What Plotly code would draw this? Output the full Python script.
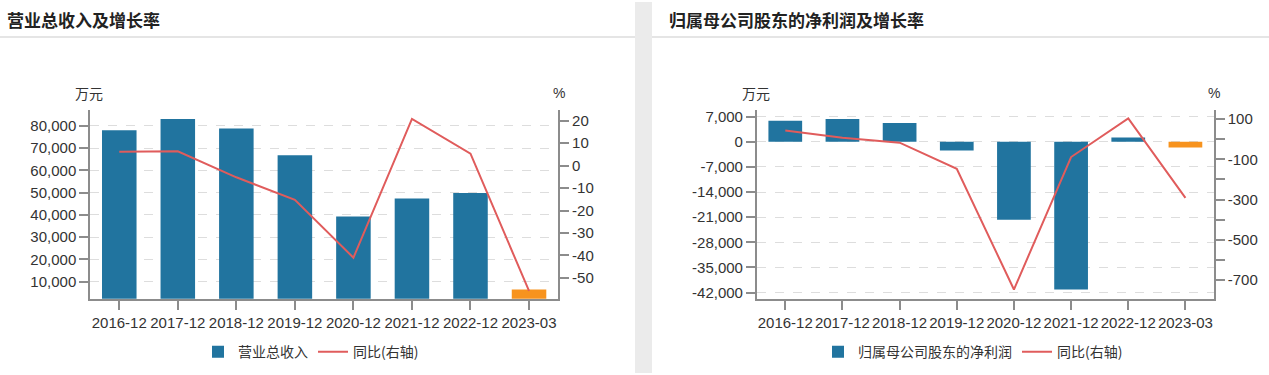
import plotly.graph_objects as go

W, H = 1269, 375

categories = ["2016-12", "2017-12", "2018-12", "2019-12", "2020-12", "2021-12", "2022-12", "2023-03"]

revenue = [78100, 83100, 78800, 66800, 39250, 47400, 49900, 6440]
revenue_yoy = [6.2, 6.4, -5.2, -15.2, -41.0, 20.8, 5.3, -55.8]

profit = [5870, 6330, 5230, -2400, -21680, -41150, 1200, -1600]
profit_yoy = [42.5, 7.0, -17.5, -147, -747, -89, 103, -292]

left_title = "营业总收入及增长率"
right_title = "归属母公司股东的净利润及增长率"
bar_name_left = "营业总收入"
bar_name_right = "归属母公司股东的净利润"
line_name = "同比(右轴)"

rev_ticks = [10000, 20000, 30000, 40000, 50000, 60000, 70000, 80000]
rev_ticktext = ["10,000", "20,000", "30,000", "40,000", "50,000", "60,000", "70,000", "80,000"]
rev_yoy_ticks = [-50, -40, -30, -20, -10, 0, 10, 20]
rev_yoy_ticktext = ["-50", "-40", "-30", "-20", "-10", "0", "10", "20"]

prof_ticks = [-42000, -35000, -28000, -21000, -14000, -7000, 0, 7000]
prof_ticktext = ["-42,000", "-35,000", "-28,000", "-21,000", "-14,000", "-7,000", "0", "7,000"]
prof_yoy_ticks = [-700, -600, -500, -400, -300, -200, -100, 0, 100]
prof_yoy_ticktext = ["-700", "", "-500", "", "-300", "", "-100", "", "100"]

BLUE = "#21749f"
ORANGE = "#f7931e"
RED = "#e05c5c"
AXIS = "#8c8c8c"
TXT = "#333333"
FONT = "Liberation Sans, Arial, Noto Sans CJK SC, sans-serif"
CJK = "Noto Sans CJK SC, sans-serif"


def px_x(p):
    return p / W


def px_y(p):
    return 1 - p / H


bar_colors = [BLUE] * (len(categories) - 1) + [ORANGE]

fig = go.Figure()
fig.add_trace(go.Bar(x=categories, y=revenue, name=bar_name_left, marker=dict(color=bar_colors, line=dict(width=0)),
                     xaxis="x", yaxis="y", legend="legend"))
fig.add_trace(go.Scatter(x=categories, y=revenue_yoy, name=line_name, mode="lines",
                         line=dict(color=RED, width=2), xaxis="x", yaxis="y2", legend="legend"))
fig.add_trace(go.Bar(x=categories, y=profit, name=bar_name_right, marker=dict(color=bar_colors, line=dict(width=0)),
                     xaxis="x2", yaxis="y3", legend="legend2"))
fig.add_trace(go.Scatter(x=categories, y=profit_yoy, name=line_name, mode="lines",
                         line=dict(color=RED, width=2), xaxis="x2", yaxis="y4", legend="legend2"))

ydom = [px_y(300), px_y(109.3)]
common_x = dict(type="category", showline=True, linecolor=AXIS, linewidth=1.5, ticks="outside",
                ticklen=9, tickcolor=AXIS, tickwidth=1.5, showgrid=False,
                tickfont=dict(family=FONT, size=15, color=TXT), fixedrange=True)
common_y = dict(showline=True, linecolor=AXIS, linewidth=1.5, ticks="outside", ticklen=9, tickcolor=AXIS,
                tickwidth=1.5, tickfont=dict(family=FONT, size=15, color=TXT), zeroline=False, tickmode="array",
                fixedrange=True)

fig.update_layout(
    width=W, height=H, margin=dict(l=0, r=0, t=0, b=0),
    paper_bgcolor="white", plot_bgcolor="white",
    bargap=0.41,
    xaxis=dict(domain=[px_x(90), px_x(558.3)], anchor="y", **common_x),
    yaxis=dict(domain=ydom, anchor="x", range=[2311, 87100], tickvals=rev_ticks, ticktext=rev_ticktext,
               showgrid=True, gridcolor="#dddddd", griddash="dash", gridwidth=1, **common_y),
    yaxis2=dict(overlaying="y", side="right", anchor="x", range=[-59.3, 24.7], tickvals=rev_yoy_ticks,
                ticktext=rev_yoy_ticktext, showgrid=False, **common_y),
    xaxis2=dict(domain=[px_x(756.7), px_x(1214)], anchor="y3", **common_x),
    yaxis3=dict(domain=ydom, anchor="x2", range=[-43720, 8815], tickvals=prof_ticks, ticktext=prof_ticktext,
                showgrid=True, gridcolor="#dddddd", griddash="dash", gridwidth=1, **common_y),
    yaxis4=dict(overlaying="y3", side="right", anchor="x2", range=[-793, 144], tickvals=prof_yoy_ticks,
                ticktext=prof_yoy_ticktext, showgrid=False, **common_y),
    legend=dict(orientation="h", x=px_x(311), xanchor="center", y=px_y(354), yanchor="middle",
                font=dict(family=CJK, size=14, color=TXT), itemwidth=30, bgcolor="rgba(0,0,0,0)"),
    legend2=dict(orientation="h", x=px_x(973), xanchor="center", y=px_y(354), yanchor="middle",
                 font=dict(family=CJK, size=14, color=TXT), itemwidth=30, bgcolor="rgba(0,0,0,0)"),
    showlegend=True,
)

shapes = [
    dict(type="rect", xref="paper", yref="paper", x0=px_x(635), x1=px_x(652), y0=0, y1=1,
         fillcolor="#ebebeb", line=dict(width=0), layer="below"),
    dict(type="line", xref="paper", yref="paper", x0=0, x1=px_x(635), y0=px_y(35.5), y1=px_y(35.5),
         line=dict(color="#dcdcdc", width=1.5)),
    dict(type="line", xref="paper", yref="paper", x0=px_x(652), x1=1, y0=px_y(35.5), y1=px_y(35.5),
         line=dict(color="#dcdcdc", width=1.5)),
]
fig.update_layout(shapes=shapes)

annotations = [
    dict(text="<b>" + left_title + "</b>", x=px_x(5), y=px_y(18), xanchor="left", yanchor="middle",
         font=dict(family=CJK, size=17, color="#222222")),
    dict(text="<b>" + right_title + "</b>", x=px_x(667), y=px_y(18), xanchor="left", yanchor="middle",
         font=dict(family=CJK, size=17, color="#222222")),
    dict(text="万元", x=px_x(89), y=px_y(92), xanchor="center", yanchor="middle",
         font=dict(family=CJK, size=14, color=TXT)),
    dict(text="%", x=px_x(558.5), y=px_y(92), xanchor="center", yanchor="middle",
         font=dict(family=FONT, size=14, color=TXT)),
    dict(text="万元", x=px_x(756), y=px_y(92), xanchor="center", yanchor="middle",
         font=dict(family=CJK, size=14, color=TXT)),
    dict(text="%", x=px_x(1214), y=px_y(92), xanchor="center", yanchor="middle",
         font=dict(family=FONT, size=14, color=TXT)),
]
for a in annotations:
    a.update(xref="paper", yref="paper", showarrow=False)
fig.update_layout(annotations=annotations)

fig.write_html("out.html", config={"displayModeBar": False},
               post_script="document.body.style.margin='0px';document.body.style.overflow='hidden';")
